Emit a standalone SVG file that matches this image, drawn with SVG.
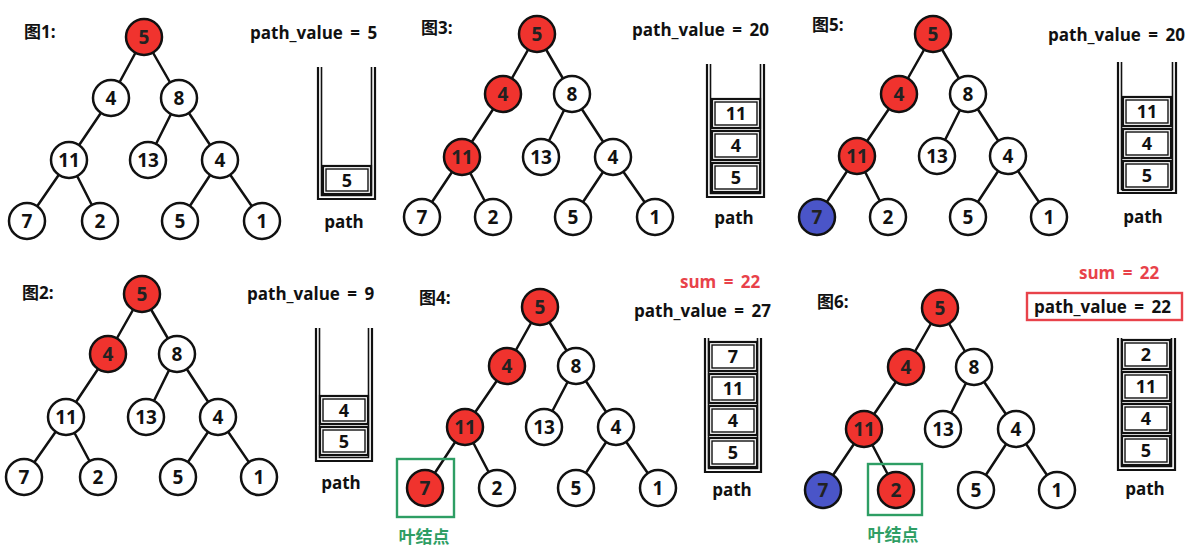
<svg xmlns="http://www.w3.org/2000/svg" width="1189" height="551" viewBox="0 0 1189 551">
<style>
.bg{fill:#fff}
.edge{stroke:#111;stroke-width:2.5;stroke-linecap:round}
.node circle{fill:#fff;stroke:#111;stroke-width:2.5}
.node.red circle{fill:#f0332e}
.node.blue circle{fill:#4a55c8}
.node text{font-family:"Open Sans","Liberation Sans",sans-serif;font-weight:700;font-size:19px;fill:#111;text-anchor:middle}
.node.red text,.node.blue text{fill:#222}
.lbl{font-family:"Open Sans","Noto Sans CJK SC",sans-serif;font-weight:700;font-size:17px;fill:#111}
.pv{font-family:"Open Sans","Liberation Sans",sans-serif;font-weight:700;font-size:17px;fill:#111;word-spacing:3px}
.sum{font-family:"Open Sans","Liberation Sans",sans-serif;font-weight:700;font-size:17px;fill:#e8424a;word-spacing:3px}
.wall{fill:none;stroke:#111;stroke-width:2.2}
.wall2{fill:none;stroke:#111;stroke-width:1.6}
.box{fill:#fff;stroke:#111;stroke-width:2.2}
.box2{fill:none;stroke:#111;stroke-width:1.4}
.bt{font-family:"Open Sans","Liberation Sans",sans-serif;font-weight:700;font-size:18px;fill:#111;text-anchor:middle}
.pl{font-family:"Open Sans","Liberation Sans",sans-serif;font-weight:700;font-size:17px;fill:#111;text-anchor:middle}
.leaf{fill:none;stroke:#2e9e64;stroke-width:2.4}
.leaft{font-family:"Noto Sans CJK SC",sans-serif;font-weight:700;font-size:17px;fill:#2e9e64;text-anchor:middle}
.redbox{fill:none;stroke:#e8424a;stroke-width:2.4}
</style>
<rect class="bg" x="0" y="0" width="1189" height="551"/>

<g id="connectors">
<line class="edge" x1="144" y1="37" x2="111" y2="98"/><line class="edge" x1="144" y1="37" x2="179" y2="98"/>
<line class="edge" x1="111" y1="98" x2="69" y2="160"/><line class="edge" x1="179" y1="98" x2="148" y2="160"/>
<line class="edge" x1="179" y1="98" x2="220" y2="160"/><line class="edge" x1="69" y1="160" x2="27" y2="221"/>
<line class="edge" x1="69" y1="160" x2="100" y2="221"/><line class="edge" x1="220" y1="160" x2="180" y2="221"/>
<line class="edge" x1="220" y1="160" x2="262" y2="221"/>
<line class="edge" x1="142" y1="294" x2="108" y2="354"/><line class="edge" x1="142" y1="294" x2="177" y2="354"/>
<line class="edge" x1="108" y1="354" x2="66" y2="417"/><line class="edge" x1="177" y1="354" x2="146" y2="417"/>
<line class="edge" x1="177" y1="354" x2="218" y2="417"/><line class="edge" x1="66" y1="417" x2="24" y2="477"/>
<line class="edge" x1="66" y1="417" x2="98" y2="477"/><line class="edge" x1="218" y1="417" x2="178" y2="477"/>
<line class="edge" x1="218" y1="417" x2="259" y2="477"/>
<line class="edge" x1="537" y1="34" x2="503" y2="94"/><line class="edge" x1="537" y1="34" x2="572" y2="94"/>
<line class="edge" x1="503" y1="94" x2="462" y2="157"/><line class="edge" x1="572" y1="94" x2="541" y2="157"/>
<line class="edge" x1="572" y1="94" x2="613" y2="157"/><line class="edge" x1="462" y1="157" x2="422" y2="217"/>
<line class="edge" x1="462" y1="157" x2="493" y2="217"/><line class="edge" x1="613" y1="157" x2="573" y2="217"/>
<line class="edge" x1="613" y1="157" x2="655" y2="217"/>
<line class="edge" x1="540" y1="307" x2="507" y2="366"/><line class="edge" x1="540" y1="307" x2="576" y2="366"/>
<line class="edge" x1="507" y1="366" x2="465" y2="427"/><line class="edge" x1="576" y1="366" x2="544" y2="427"/>
<line class="edge" x1="576" y1="366" x2="616" y2="427"/><line class="edge" x1="465" y1="427" x2="425" y2="488"/>
<line class="edge" x1="465" y1="427" x2="497" y2="488"/><line class="edge" x1="616" y1="427" x2="576" y2="488"/>
<line class="edge" x1="616" y1="427" x2="658" y2="488"/>
<line class="edge" x1="933" y1="34" x2="899" y2="94"/><line class="edge" x1="933" y1="34" x2="968" y2="94"/>
<line class="edge" x1="899" y1="94" x2="857" y2="156"/><line class="edge" x1="968" y1="94" x2="937" y2="156"/>
<line class="edge" x1="968" y1="94" x2="1008" y2="156"/><line class="edge" x1="857" y1="156" x2="817" y2="217"/>
<line class="edge" x1="857" y1="156" x2="888" y2="217"/><line class="edge" x1="1008" y1="156" x2="968" y2="217"/>
<line class="edge" x1="1008" y1="156" x2="1049" y2="217"/>
<line class="edge" x1="940" y1="308" x2="906" y2="367"/><line class="edge" x1="940" y1="308" x2="974" y2="367"/>
<line class="edge" x1="906" y1="367" x2="864" y2="429"/><line class="edge" x1="974" y1="367" x2="943" y2="429"/>
<line class="edge" x1="974" y1="367" x2="1016" y2="429"/><line class="edge" x1="864" y1="429" x2="823" y2="490"/>
<line class="edge" x1="864" y1="429" x2="896" y2="490"/><line class="edge" x1="1016" y1="429" x2="976" y2="490"/>
<line class="edge" x1="1016" y1="429" x2="1057" y2="490"/>
</g>

<g id="panel1">
<text class="lbl" x="24" y="38">图1:</text>
<g id="p1-n5" class="node red"><circle cx="144" cy="37" r="18"/><text x="144" y="44">5</text></g>
<g id="p1-n4" class="node"><circle cx="111" cy="98" r="18"/><text x="111" y="105">4</text></g>
<g id="p1-n8" class="node"><circle cx="179" cy="98" r="18"/><text x="179" y="105">8</text></g>
<g id="p1-n11" class="node"><circle cx="69" cy="160" r="18"/><text x="69" y="167">11</text></g>
<g id="p1-n13" class="node"><circle cx="148" cy="160" r="18"/><text x="148" y="167">13</text></g>
<g id="p1-n4r" class="node"><circle cx="220" cy="160" r="18"/><text x="220" y="167">4</text></g>
<g id="p1-n7" class="node"><circle cx="27" cy="221" r="18"/><text x="27" y="228">7</text></g>
<g id="p1-n2" class="node"><circle cx="100" cy="221" r="18"/><text x="100" y="228">2</text></g>
<g id="p1-n5b" class="node"><circle cx="180" cy="221" r="18"/><text x="180" y="228">5</text></g>
<g id="p1-n1" class="node"><circle cx="262" cy="221" r="18"/><text x="262" y="228">1</text></g>
<text class="pv" x="250" y="39">path_value = 5</text>
<g id="p1-stack">
<path class="wall" d="M318,67 V199 H375 V67"/><path class="wall2" d="M321.5,67 V195.5 H371.5 V67"/>
<rect class="box" x="323" y="166" width="48" height="28"/><rect class="box2" x="326" y="169" width="42" height="22"/><text class="bt" x="347" y="186.5">5</text>
<text class="pl" x="344" y="228">path</text>
</g>
</g>

<g id="panel2">
<text class="lbl" x="22" y="299">图2:</text>
<g id="p2-n5" class="node red"><circle cx="142" cy="294" r="18"/><text x="142" y="301">5</text></g>
<g id="p2-n4" class="node red"><circle cx="108" cy="354" r="18"/><text x="108" y="361">4</text></g>
<g id="p2-n8" class="node"><circle cx="177" cy="354" r="18"/><text x="177" y="361">8</text></g>
<g id="p2-n11" class="node"><circle cx="66" cy="417" r="18"/><text x="66" y="424">11</text></g>
<g id="p2-n13" class="node"><circle cx="146" cy="417" r="18"/><text x="146" y="424">13</text></g>
<g id="p2-n4r" class="node"><circle cx="218" cy="417" r="18"/><text x="218" y="424">4</text></g>
<g id="p2-n7" class="node"><circle cx="24" cy="477" r="18"/><text x="24" y="484">7</text></g>
<g id="p2-n2" class="node"><circle cx="98" cy="477" r="18"/><text x="98" y="484">2</text></g>
<g id="p2-n5b" class="node"><circle cx="178" cy="477" r="18"/><text x="178" y="484">5</text></g>
<g id="p2-n1" class="node"><circle cx="259" cy="477" r="18"/><text x="259" y="484">1</text></g>
<text class="pv" x="247" y="300">path_value = 9</text>
<g id="p2-stack">
<path class="wall" d="M316,328 V461 H372 V328"/><path class="wall2" d="M319.5,328 V457.5 H368.5 V328"/>
<rect class="box" x="320" y="396" width="48" height="28"/><rect class="box2" x="323" y="399" width="42" height="22"/><text class="bt" x="344" y="416.5">4</text>
<rect class="box" x="320" y="427" width="48" height="28"/><rect class="box2" x="323" y="430" width="42" height="22"/><text class="bt" x="344" y="447.5">5</text>
<text class="pl" x="341" y="489">path</text>
</g>
</g>

<g id="panel3">
<text class="lbl" x="421" y="34">图3:</text>
<g id="p3-n5" class="node red"><circle cx="537" cy="34" r="18"/><text x="537" y="41">5</text></g>
<g id="p3-n4" class="node red"><circle cx="503" cy="94" r="18"/><text x="503" y="101">4</text></g>
<g id="p3-n8" class="node"><circle cx="572" cy="94" r="18"/><text x="572" y="101">8</text></g>
<g id="p3-n11" class="node red"><circle cx="462" cy="157" r="18"/><text x="462" y="164">11</text></g>
<g id="p3-n13" class="node"><circle cx="541" cy="157" r="18"/><text x="541" y="164">13</text></g>
<g id="p3-n4r" class="node"><circle cx="613" cy="157" r="18"/><text x="613" y="164">4</text></g>
<g id="p3-n7" class="node"><circle cx="422" cy="217" r="18"/><text x="422" y="224">7</text></g>
<g id="p3-n2" class="node"><circle cx="493" cy="217" r="18"/><text x="493" y="224">2</text></g>
<g id="p3-n5b" class="node"><circle cx="573" cy="217" r="18"/><text x="573" y="224">5</text></g>
<g id="p3-n1" class="node"><circle cx="655" cy="217" r="18"/><text x="655" y="224">1</text></g>
<text class="pv" x="632" y="36">path_value = 20</text>
<g id="p3-stack">
<path class="wall" d="M707,64 V197 H764 V64"/><path class="wall2" d="M710.5,64 V193.5 H760.5 V64"/>
<rect class="box" x="712" y="99" width="48" height="29"/><rect class="box2" x="715" y="102" width="42" height="23"/><text class="bt" x="736" y="120">11</text>
<rect class="box" x="712" y="131" width="48" height="29"/><rect class="box2" x="715" y="134" width="42" height="23"/><text class="bt" x="736" y="152">4</text>
<rect class="box" x="712" y="163" width="48" height="29"/><rect class="box2" x="715" y="166" width="42" height="23"/><text class="bt" x="736" y="184">5</text>
<text class="pl" x="734" y="224">path</text>
</g>
</g>

<g id="panel4">
<text class="lbl" x="419" y="304">图4:</text>
<g id="p4-n5" class="node red"><circle cx="540" cy="307" r="18"/><text x="540" y="314">5</text></g>
<g id="p4-n4" class="node red"><circle cx="507" cy="366" r="18"/><text x="507" y="373">4</text></g>
<g id="p4-n8" class="node"><circle cx="576" cy="366" r="18"/><text x="576" y="373">8</text></g>
<g id="p4-n11" class="node red"><circle cx="465" cy="427" r="18"/><text x="465" y="434">11</text></g>
<g id="p4-n13" class="node"><circle cx="544" cy="427" r="18"/><text x="544" y="434">13</text></g>
<g id="p4-n4r" class="node"><circle cx="616" cy="427" r="18"/><text x="616" y="434">4</text></g>
<g id="p4-n7" class="node red"><circle cx="425" cy="488" r="18"/><text x="425" y="495">7</text></g>
<g id="p4-n2" class="node"><circle cx="497" cy="488" r="18"/><text x="497" y="495">2</text></g>
<g id="p4-n5b" class="node"><circle cx="576" cy="488" r="18"/><text x="576" y="495">5</text></g>
<g id="p4-n1" class="node"><circle cx="658" cy="488" r="18"/><text x="658" y="495">1</text></g>
<rect class="leaf" x="397" y="459" width="57" height="58"/>
<text class="leaft" x="424" y="543">叶结点</text>
<text class="sum" x="680" y="288">sum = 22</text>
<text class="pv" x="634" y="317">path_value = 27</text>
<g id="p4-stack">
<path class="wall" d="M705,338 V472 H761 V338"/><path class="wall2" d="M708.5,338 V468.5 H757.5 V338"/>
<rect class="box" x="709" y="342" width="48" height="29"/><rect class="box2" x="712" y="345" width="42" height="23"/><text class="bt" x="733" y="363">7</text>
<rect class="box" x="709" y="374" width="48" height="29"/><rect class="box2" x="712" y="377" width="42" height="23"/><text class="bt" x="733" y="395">11</text>
<rect class="box" x="709" y="406" width="48" height="29"/><rect class="box2" x="712" y="409" width="42" height="23"/><text class="bt" x="733" y="427">4</text>
<rect class="box" x="709" y="438" width="48" height="29"/><rect class="box2" x="712" y="441" width="42" height="23"/><text class="bt" x="733" y="459">5</text>
<text class="pl" x="732" y="496">path</text>
</g>
</g>

<g id="panel5">
<text class="lbl" x="812" y="31">图5:</text>
<g id="p5-n5" class="node red"><circle cx="933" cy="34" r="18"/><text x="933" y="41">5</text></g>
<g id="p5-n4" class="node red"><circle cx="899" cy="94" r="18"/><text x="899" y="101">4</text></g>
<g id="p5-n8" class="node"><circle cx="968" cy="94" r="18"/><text x="968" y="101">8</text></g>
<g id="p5-n11" class="node red"><circle cx="857" cy="156" r="18"/><text x="857" y="163">11</text></g>
<g id="p5-n13" class="node"><circle cx="937" cy="156" r="18"/><text x="937" y="163">13</text></g>
<g id="p5-n4r" class="node"><circle cx="1008" cy="156" r="18"/><text x="1008" y="163">4</text></g>
<g id="p5-n7" class="node blue"><circle cx="817" cy="217" r="18"/><text x="817" y="224">7</text></g>
<g id="p5-n2" class="node"><circle cx="888" cy="217" r="18"/><text x="888" y="224">2</text></g>
<g id="p5-n5b" class="node"><circle cx="968" cy="217" r="18"/><text x="968" y="224">5</text></g>
<g id="p5-n1" class="node"><circle cx="1049" cy="217" r="18"/><text x="1049" y="224">1</text></g>
<text class="pv" x="1048" y="41">path_value = 20</text>
<g id="p5-stack">
<path class="wall" d="M1118,62 V193 H1176 V62"/><path class="wall2" d="M1121.5,62 V189.5 H1172.5 V62"/>
<rect class="box" x="1123" y="97" width="48" height="29"/><rect class="box2" x="1126" y="100" width="42" height="23"/><text class="bt" x="1147" y="118">11</text>
<rect class="box" x="1123" y="129" width="48" height="29"/><rect class="box2" x="1126" y="132" width="42" height="23"/><text class="bt" x="1147" y="150">4</text>
<rect class="box" x="1123" y="161" width="48" height="29"/><rect class="box2" x="1126" y="164" width="42" height="23"/><text class="bt" x="1147" y="182">5</text>
<text class="pl" x="1143" y="223">path</text>
</g>
</g>

<g id="panel6">
<text class="lbl" x="817" y="308">图6:</text>
<g id="p6-n5" class="node red"><circle cx="940" cy="308" r="18"/><text x="940" y="315">5</text></g>
<g id="p6-n4" class="node red"><circle cx="906" cy="367" r="18"/><text x="906" y="374">4</text></g>
<g id="p6-n8" class="node"><circle cx="974" cy="367" r="18"/><text x="974" y="374">8</text></g>
<g id="p6-n11" class="node red"><circle cx="864" cy="429" r="18"/><text x="864" y="436">11</text></g>
<g id="p6-n13" class="node"><circle cx="943" cy="429" r="18"/><text x="943" y="436">13</text></g>
<g id="p6-n4r" class="node"><circle cx="1016" cy="429" r="18"/><text x="1016" y="436">4</text></g>
<g id="p6-n7" class="node blue"><circle cx="823" cy="490" r="18"/><text x="823" y="497">7</text></g>
<g id="p6-n2" class="node red"><circle cx="896" cy="490" r="18"/><text x="896" y="497">2</text></g>
<g id="p6-n5b" class="node"><circle cx="976" cy="490" r="18"/><text x="976" y="497">5</text></g>
<g id="p6-n1" class="node"><circle cx="1057" cy="490" r="18"/><text x="1057" y="497">1</text></g>
<rect class="leaf" x="868" y="464" width="54" height="51"/>
<text class="leaft" x="893" y="541">叶结点</text>
<text class="sum" x="1079" y="279">sum = 22</text>
<rect class="redbox" x="1027" y="293" width="155" height="27"/>
<text class="pv" x="1034" y="313">path_value = 22</text>
<g id="p6-stack">
<path class="wall" d="M1118,338 V470 H1175 V338"/><path class="wall2" d="M1121.5,338 V466.5 H1171.5 V338"/>
<rect class="box" x="1122" y="340" width="48" height="29"/><rect class="box2" x="1125" y="343" width="42" height="23"/><text class="bt" x="1146" y="361">2</text>
<rect class="box" x="1122" y="372" width="48" height="29"/><rect class="box2" x="1125" y="375" width="42" height="23"/><text class="bt" x="1146" y="393">11</text>
<rect class="box" x="1122" y="404" width="48" height="29"/><rect class="box2" x="1125" y="407" width="42" height="23"/><text class="bt" x="1146" y="425">4</text>
<rect class="box" x="1122" y="436" width="48" height="29"/><rect class="box2" x="1125" y="439" width="42" height="23"/><text class="bt" x="1146" y="457">5</text>
<text class="pl" x="1145" y="495">path</text>
</g>
</g>
</svg>
